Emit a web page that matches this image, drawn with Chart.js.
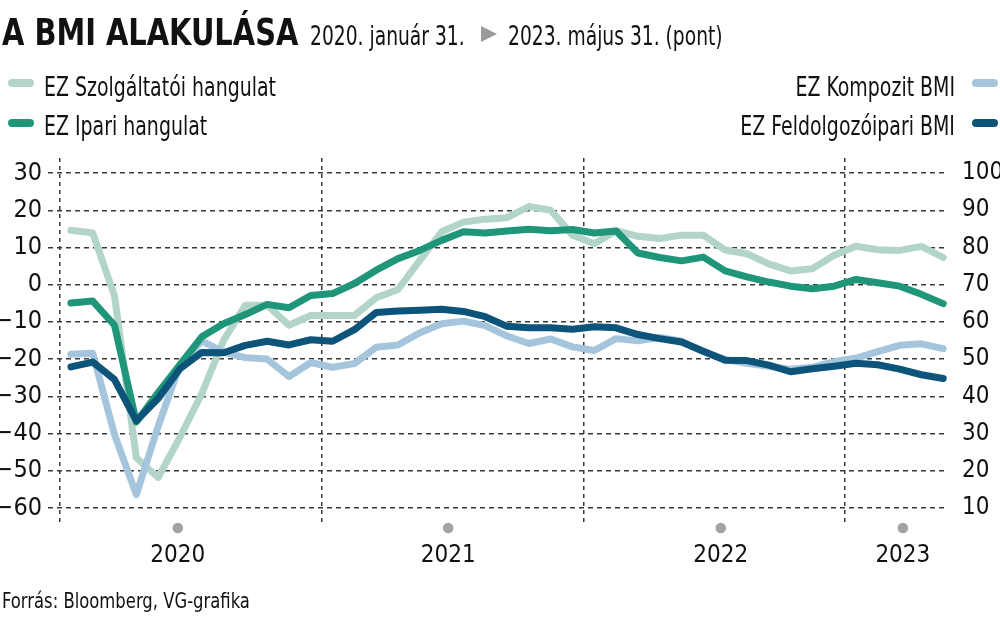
<!DOCTYPE html>
<html>
<head>
<meta charset="utf-8">
<script src="https://cdn.jsdelivr.net/npm/chart.js@4.4.1/dist/chart.umd.min.js"></script>
<style>
  html,body{margin:0;padding:0;background:#fff;}
  body{width:1000px;height:631px;position:relative;overflow:hidden;
       font-family:"Liberation Sans Narrow","DejaVu Sans Condensed","Liberation Sans",sans-serif;color:#111;}
  .t{position:absolute;white-space:nowrap;line-height:1;transform-origin:left top;}
  .r{transform-origin:right top;}
  .mk{position:absolute;width:26px;height:8px;border-radius:4px;}
  #cv{position:absolute;left:0;top:0;}
</style>
</head>
<body>
<canvas id="cv" width="1000" height="631"></canvas>

<div class="t" style="left:2px;top:13px;font-size:38px;font-weight:bold;transform:scaleX(0.845);">A BMI ALAKULÁSA</div>
<div class="t" style="left:310px;top:22px;font-size:27px;transform:scaleX(0.77);">2020. január 31.</div>
<div style="position:absolute;left:481px;top:26px;width:0;height:0;border-left:16px solid #9a9a9a;border-top:8.5px solid transparent;border-bottom:8.5px solid transparent;"></div>
<div class="t" style="left:508px;top:22px;font-size:27px;transform:scaleX(0.77);">2023. május 31. (pont)</div>

<div class="mk" style="left:8px;top:79px;background:#b3d4c8;"></div>
<div class="t" style="left:44px;top:74px;font-size:26px;transform:scaleX(0.81);">EZ Szolgáltatói hangulat</div>
<div class="mk" style="left:8px;top:119px;background:#1f967a;"></div>
<div class="t" style="left:44px;top:113px;font-size:26px;transform:scaleX(0.81);">EZ Ipari hangulat</div>

<div class="t r" style="right:45px;top:74px;font-size:26px;transform:scaleX(0.81);">EZ Kompozit BMI</div>
<div class="mk" style="left:972px;top:79px;background:#a5c5dc;"></div>
<div class="t r" style="right:45px;top:113px;font-size:26px;transform:scaleX(0.81);">EZ Feldolgozóipari BMI</div>
<div class="mk" style="left:972px;top:119px;background:#0c5479;"></div>

<div class="t" style="left:2px;top:590px;font-size:22px;transform:scaleX(0.83);">Forrás: Bloomberg, VG-grafika</div>

<script>
// ---------------- DATA ----------------
const months = [
  "2020-01","2020-02","2020-03","2020-04","2020-05","2020-06","2020-07","2020-08","2020-09","2020-10","2020-11","2020-12",
  "2021-01","2021-02","2021-03","2021-04","2021-05","2021-06","2021-07","2021-08","2021-09","2021-10","2021-11","2021-12",
  "2022-01","2022-02","2022-03","2022-04","2022-05","2022-06","2022-07","2022-08","2022-09","2022-10","2022-11","2022-12",
  "2023-01","2023-02","2023-03","2023-04","2023-05"
];
// EZ Szolgáltatói hangulat (bal tengely)
const servicesSentiment = [
  14.6, 13.9, -3.0, -46.5, -51.8, -41.0, -29.3, -15.0, -5.5, -5.5, -10.9, -8.3,
  -8.3, -8.3, -3.5, -1.3, 6.5, 14.2, 16.8, 17.6, 18.0, 21.0, 20.0, 13.3,
  11.0, 14.5, 13.0, 12.4, 13.3, 13.3, 9.3, 8.3, 5.6, 3.7, 4.3, 7.9,
  10.3, 9.4, 9.2, 10.3, 7.3
];
// EZ Ipari hangulat (bal tengely)
const industrySentiment = [
  -4.9, -4.4, -10.9, -36.9, -29.0, -21.5, -14.0, -10.5, -8.0, -5.3, -6.2, -2.9,
  -2.4, 0.3, 3.9, 7.0, 9.2, 11.9, 14.2, 13.9, 14.4, 14.9, 14.5, 14.8,
  13.9, 14.4, 8.5, 7.3, 6.4, 7.4, 3.7, 2.1, 0.7, -0.4, -1.1, -0.4,
  1.4, 0.5, -0.4, -2.6, -5.1
];
// EZ Kompozit BMI (jobb tengely)
const compositePMI = [
  51.3, 51.6, 29.7, 13.6, 31.9, 48.5, 54.9, 51.9, 50.4, 50.0, 45.3, 49.1,
  47.8, 48.8, 53.2, 53.8, 57.1, 59.5, 60.2, 59.0, 56.2, 54.2, 55.4, 53.3,
  52.3, 55.5, 54.9, 55.8, 54.8, 52.0, 49.9, 48.9, 48.1, 47.3, 47.8, 49.3,
  50.3, 52.0, 53.7, 54.1, 52.8
];
// EZ Feldolgozóipari BMI (jobb tengely)
const manufacturingPMI = [
  47.9, 49.2, 44.5, 33.4, 39.4, 47.4, 51.8, 51.7, 53.7, 54.8, 53.8, 55.2,
  54.8, 57.9, 62.5, 62.9, 63.1, 63.4, 62.8, 61.4, 58.8, 58.4, 58.4, 58.0,
  58.7, 58.4, 56.6, 55.5, 54.6, 52.1, 49.7, 49.6, 48.4, 46.6, 47.4, 48.1,
  48.9, 48.5, 47.3, 45.8, 44.8
];
const leftTicks  = [-60, -50, -40, -30, -20, -10, 0, 10, 20, 30];
const rightTicks = [10, 20, 30, 40, 50, 60, 70, 80, 90, 100];
const yearLabels = ["2020", "2021", "2022", "2023"];

// ---------------- CHART ----------------
const FONT = "'Liberation Sans Narrow','DejaVu Sans Condensed','Liberation Sans',sans-serif";
Chart.defaults.font.family = FONT;
Chart.defaults.color = '#111';

const toPts = arr => arr.map((v, i) => ({x: i, y: v}));
const yearBounds = months.map((m, i) => m.endsWith('-01') ? i - 0.5 : null).filter(v => v !== null);
const yearLabelAt = [4.9, 17.3, 29.8, 38.15];   // label placement (layout)
const fmt = v => (v < 0 ? '\u2212' + Math.abs(v) : String(v));

const lineDs = (label, data, color, axis, order) => ({
  label, data: toPts(data), borderColor: color, backgroundColor: color,
  borderWidth: 7, pointRadius: 0, tension: 0, yAxisID: axis, order,
  borderCapStyle: 'round', borderJoinStyle: 'round', fill: false
});

const dotsPlugin = {
  id: 'yearDots',
  afterDraw(chart) {
    const sc = chart.scales.x2, ctx = chart.ctx;
    ctx.save();
    ctx.fillStyle = '#a3a3a3';
    sc.ticks.forEach(t => {
      const px = sc.getPixelForValue(t.value);
      ctx.beginPath();
      ctx.arc(px, chart.chartArea.bottom + 6, 5.3, 0, Math.PI * 2);
      ctx.fill();
    });
    ctx.restore();
  }
};

const gridColor = '#383838';

new Chart(document.getElementById('cv'), {
  type: 'line',
  data: {
    datasets: [
      lineDs('EZ Feldolgozóipari BMI', manufacturingPMI, '#0c5479', 'y2', 1),
      lineDs('EZ Ipari hangulat', industrySentiment, '#1f967a', 'y', 2),
      lineDs('EZ Kompozit BMI', compositePMI, '#a5c5dc', 'y2', 3),
      lineDs('EZ Szolgáltatói hangulat', servicesSentiment, '#b3d4c8', 'y', 4)
    ]
  },
  options: {
    responsive: false,
    animation: false,
    devicePixelRatio: 1,
    layout: { padding: { top: 158, bottom: 59, left: 0, right: 0 } },
    plugins: { legend: { display: false }, tooltip: { enabled: false }, title: { display: false } },
    scales: {
      x: {
        type: 'linear', position: 'bottom', min: -1.05, max: 40.22,
        afterBuildTicks: s => { s.ticks = yearBounds.map(v => ({value: v})); },
        afterFit: s => { s.height = 0; },
        ticks: { display: false },
        border: { display: false, dash: [4, 4] },
        grid: { color: gridColor, lineWidth: 1.5, drawTicks: false, tickLength: 0 }
      },
      x2: {
        type: 'linear', position: 'bottom', min: -1.05, max: 40.22,
        afterBuildTicks: s => { s.ticks = yearLabelAt.map(v => ({value: v})); },
        afterFit: s => { s.height = 50; },
        grid: { display: false, drawTicks: false },
        border: { display: false },
        ticks: { autoSkip: false, maxRotation: 0, padding: 19, font: { size: 24 },
                 callback: (v, i) => yearLabels[i] }
      },
      y: {
        position: 'left', min: -63.76, max: 34.03,
        afterBuildTicks: s => { s.ticks = leftTicks.map(v => ({value: v})); },
        afterFit: s => { s.width = 48; },
        border: { display: false, dash: [5, 4] },
        grid: { color: gridColor, lineWidth: 1.4, drawTicks: false },
        ticks: { padding: 6, font: { size: 25 }, callback: v => fmt(v) }
      },
      y2: {
        position: 'right', min: 6.24, max: 104.03,
        afterBuildTicks: s => { s.ticks = rightTicks.map(v => ({value: v})); },
        afterFit: s => { s.width = 52; },
        border: { display: false },
        grid: { display: false, drawTicks: false },
        ticks: { padding: 14, font: { size: 24 }, callback: v => String(v) }
      }
    }
  },
  plugins: [dotsPlugin]
});
</script>
</body>
</html>
